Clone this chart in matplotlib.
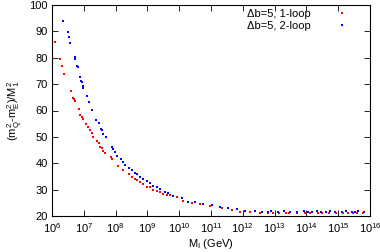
import numpy as np
import matplotlib
matplotlib.use("Agg")
import matplotlib.pyplot as plt
from matplotlib.ticker import FixedLocator, NullLocator

# log10(M_I / GeV) and (mQ^2 - mE^2)/M1^2
log_mi_1loop = [6.08, 6.25, 6.31, 6.39, 6.59, 6.65, 6.69, 6.73, 6.84, 6.88, 6.94, 6.98,
                7.07, 7.12, 7.19, 7.27, 7.30, 7.40, 7.48, 7.51, 7.56, 7.61, 7.68, 7.86,
                7.89, 8.08, 8.24, 8.43, 8.51, 8.61, 8.66, 8.77, 8.85, 8.98, 9.08, 9.19,
                9.29, 9.40, 9.50, 9.63, 9.71, 9.92, 10.13, 10.39, 10.65, 10.97, 11.34,
                11.65, 11.91, 12.23, 12.54, 12.80, 12.95, 13.15, 13.35, 13.45, 13.72,
                13.95, 14.10, 14.35, 14.50, 14.70, 14.92, 15.15, 15.30, 15.45, 15.60,
                15.78]
ratio_1loop = [86.1, 79.4, 77.0, 74.0, 67.5, 64.6, 64.3, 63.7, 60.4, 58.3, 57.7, 56.8,
               54.9, 53.6, 52.6, 51.4, 50.1, 48.5, 47.6, 46.3, 45.7, 44.8, 43.9, 42.2,
               41.5, 39.1, 37.6, 35.9, 34.9, 33.9, 33.7, 32.9, 32.2, 31.1, 30.9, 29.9,
               29.6, 29.1, 28.4, 28.1, 28.0, 27.1, 25.8, 24.8, 24.4, 23.8, 22.9,
               22.3, 21.7, 21.7, 21.3, 21.1, 21.2, 21.1, 21.0, 21.1, 21.0,
               21.0, 21.1, 21.0, 21.0, 21.1, 21.0, 21.0, 21.1, 21.0, 21.0,
               21.0]

log_mi_2loop = [6.36, 6.50, 6.53, 6.57, 6.71, 6.73, 6.79, 6.82, 6.88, 6.92, 6.95, 6.98,
                6.99, 7.09, 7.15, 7.25, 7.38, 7.47, 7.55, 7.56, 7.61, 7.70, 7.88, 7.93,
                7.98, 8.05, 8.16, 8.22, 8.30, 8.43, 8.51, 8.61, 8.68, 8.77, 8.87, 8.98,
                9.08, 9.19, 9.29, 9.40, 9.55, 9.66, 9.81, 10.08, 10.29, 10.50, 10.76,
                11.02, 11.28, 11.55, 11.81, 12.07, 12.38, 12.59, 12.80, 12.90, 13.10,
                13.30, 13.48, 13.70, 13.92, 14.05, 14.18, 14.32, 14.45, 14.62, 14.75,
                14.90, 15.12, 15.25, 15.42, 15.52, 15.62, 15.80]
ratio_2loop = [93.8, 89.6, 87.7, 85.7, 80.2, 79.7, 77.0, 76.4, 72.8, 71.3, 70.8, 69.4,
               68.5, 65.5, 63.1, 60.2, 56.4, 55.2, 53.1, 52.6, 51.1, 49.9, 46.3, 45.4,
               44.4, 42.8, 41.5, 40.4, 39.5, 38.1, 37.3, 36.4, 35.9, 34.9, 33.9, 33.4,
               32.7, 31.4, 30.9, 30.4, 29.2, 28.9, 27.6, 26.7, 25.4, 25.2, 24.4,
               24.0, 23.3, 22.9, 22.5, 22.0, 22.0, 21.7, 21.7, 21.8, 21.7,
               21.8, 21.6, 21.7, 21.8, 21.6, 21.7, 21.8, 21.6, 21.7, 21.8,
               21.6, 21.7, 21.8, 21.6, 21.7, 21.8, 21.7]

plt.rcParams["font.family"] = ["Liberation Sans", "DejaVu Sans"]
plt.rcParams["font.size"] = 8
plt.rcParams["mathtext.fontset"] = "custom"
plt.rcParams["mathtext.rm"] = "Liberation Sans"
plt.rcParams["mathtext.it"] = "Liberation Sans"

fig = plt.figure(figsize=(3.8, 2.52), dpi=100)
ax = fig.add_axes([52 / 380, 1 - 216 / 252, 318 / 380, 211 / 252])

ax.plot(10.0 ** np.array(log_mi_1loop), ratio_1loop, "s", color="#ff0000",
        ms=1.6, mew=0, label="\u0394b=5, 1-loop")
ax.plot(10.0 ** np.array(log_mi_2loop), ratio_2loop, "s", color="#0000ff",
        ms=1.6, mew=0, label="\u0394b=5, 2-loop")

ax.set_xscale("log")
ax.set_xlim(1e6, 1e16)
ax.set_ylim(20, 100)
ax.xaxis.set_major_locator(FixedLocator([10.0 ** k for k in range(6, 17)]))
ax.xaxis.set_minor_locator(NullLocator())
ax.set_yticks(np.arange(20, 101, 10))
ax.tick_params(which="both", direction="in", top=True, right=True,
               length=4, width=0.6, labelsize=8)
ax.tick_params(axis="x", pad=4)
ax.tick_params(axis="y", pad=3)
for s in ax.spines.values():
    s.set_linewidth(0.8)

ax.set_xlabel(r"M$_\mathrm{I}$ (GeV)", labelpad=1)
ax.set_ylabel(r"(m$_\mathrm{Q}^2$-m$_\mathrm{E}^2$)/M$_1^2$", labelpad=3)

ax.legend(loc="upper right", bbox_to_anchor=(0.929, 0.98), markerfirst=False,
          frameon=False, fontsize=8, handlelength=1.0, handletextpad=2.3,
          labelspacing=0.12, borderpad=0.0, borderaxespad=0.0)

fig.savefig("out.png", dpi=100)
